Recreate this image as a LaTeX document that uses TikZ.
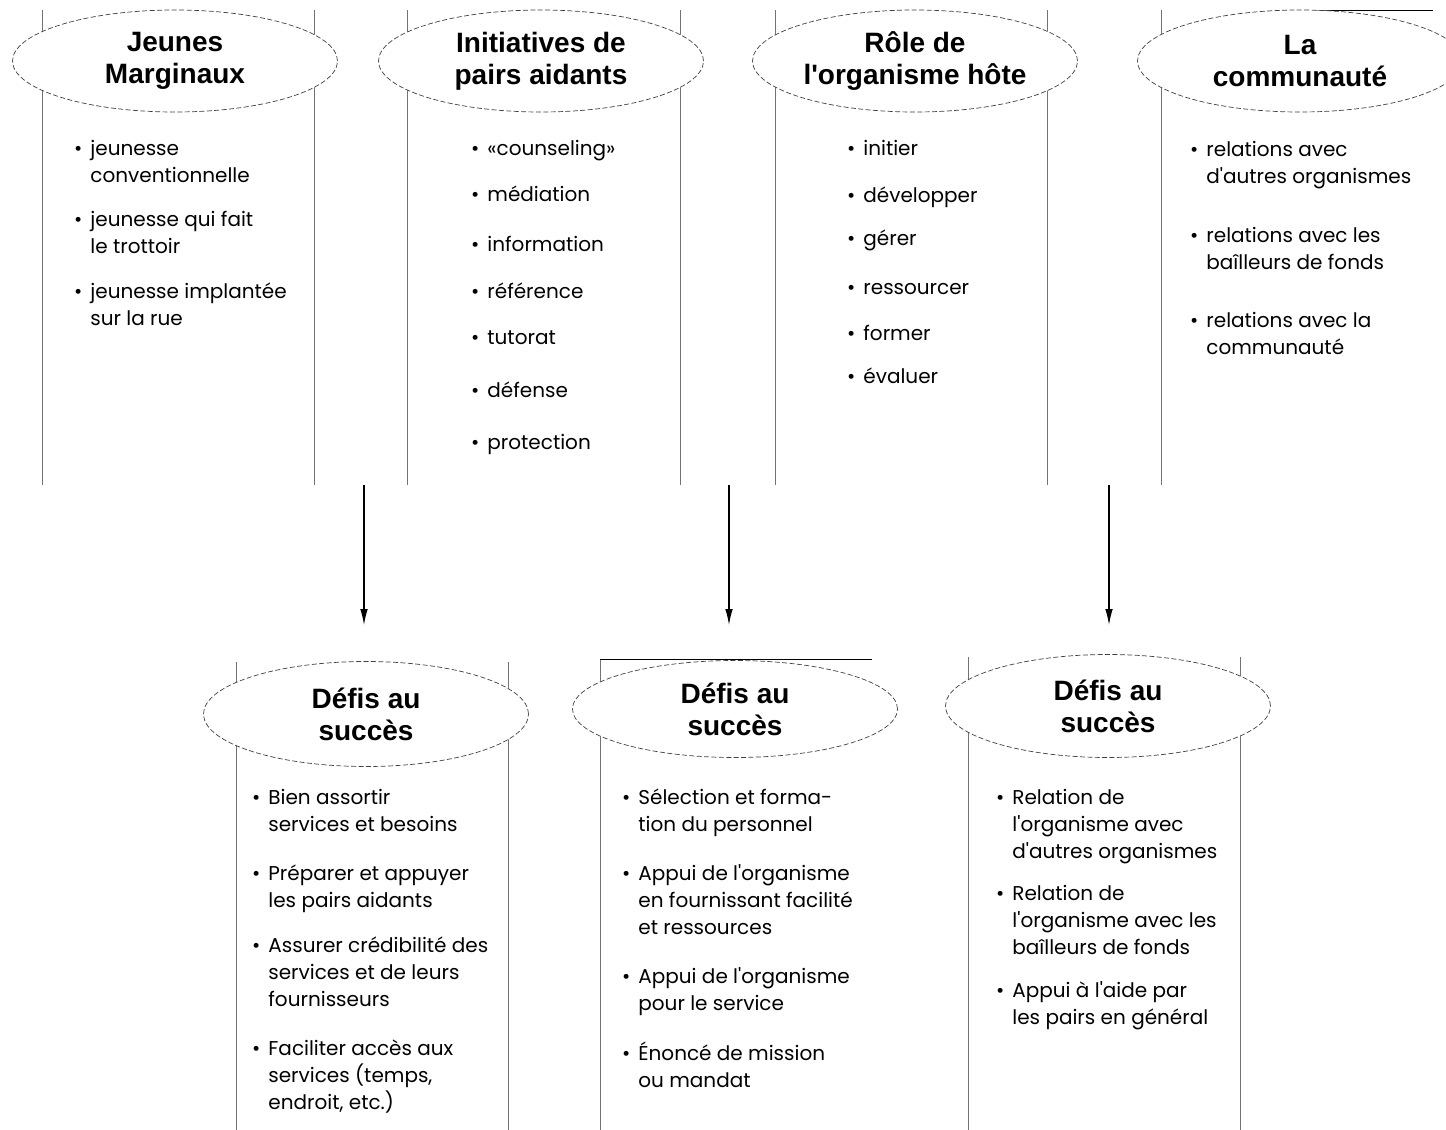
\documentclass[tikz,border=0pt]{standalone}
\usepackage{fontspec}
\setmainfont{Poppins}[Ligatures=TeXOff]
\newfontfamily\headfont{Liberation Sans}
\usetikzlibrary{shapes.geometric,arrows.meta}

\newcommand{\bul}{\llap{\textbullet\hspace{4pt}}}

\tikzset{
  head/.style={ellipse, draw=black!75, fill=white, dash pattern=on 2.5pt off 1.2pt,
    line width=0.35pt, inner sep=0pt, minimum width=162.5pt, align=center,
    font=\headfont\bfseries\fontsize{14}{16}\selectfont},
  entry/.style={anchor=base west, align=left, inner sep=0pt,
    font=\fontsize{10}{13.5}\selectfont},
  rule/.style={draw=black!55, line width=0.5pt},
  arr/.style={draw, line width=0.6pt, -{Latex[length=8pt,width=3.8pt]}}
}

\begin{document}
\begin{tikzpicture}[x=0.5pt, y=-0.5pt]
        \useasboundingbox (0,0) rectangle (1446,1130);
        \clip (0,0) rectangle (1446,1130);

        % column rules
        \foreach \x in {42,314,407,680,775,1047,1161}
            \draw[rule] (\x,10) -- (\x,485);
        \foreach \x/\y in {236/662,508/662,600/659,968/657,1240/657}
            \draw[rule] (\x,\y) -- (\x,1130);
        \draw (600,659) -- (872,659);
        \draw (1307,10) -- (1433,10);

        % headings
        \node[head, minimum height=51pt] (jeunes) at (175,61) {Jeunes\\Marginaux};
        \node[head, minimum height=51pt] (pairs) at (541,61) {Initiatives de\\pairs aidants};
        \node[head, minimum height=51pt] (hote) at (915,61) {Rôle de\\l'organisme hôte};
        \node[head, minimum height=51pt] (commu) at (1300,61) {La\\communauté};

        \node[head, minimum height=52.5pt] (defisA) at (366,714) {Défis au\\succès};
        \node[head, minimum height=48.5pt] (defisB) at (735,709) {Défis au\\succès};
        \node[head, minimum height=51.5pt] (defisC) at (1108,706) {Défis au\\succès};

        % top lists (y = baseline of the last line)
        \node[entry] (j1) at (90,182) {\bul jeunesse\\conventionnelle};
        \node[entry] (j2) at (90,253) {\bul jeunesse qui fait\\le trottoir};
        \node[entry] (j3) at (90,325) {\bul jeunesse implantée\\sur la rue};

        \node[entry] (p1) at (487,155) {\bul «counseling»};
        \node[entry] (p2) at (487,201) {\bul médiation};
        \node[entry] (p3) at (487,251) {\bul information};
        \node[entry] (p4) at (487,298) {\bul référence};
        \node[entry] (p5) at (487,344) {\bul tutorat};
        \node[entry] (p6) at (487,397) {\bul défense};
        \node[entry] (p7) at (487,449) {\bul protection};

        \node[entry] (h1) at (863,155) {\bul initier};
        \node[entry] (h2) at (863,202) {\bul développer};
        \node[entry] (h3) at (863,245) {\bul gérer};
        \node[entry] (h4) at (863,294) {\bul ressourcer};
        \node[entry] (h5) at (863,340) {\bul former};
        \node[entry] (h6) at (863,383) {\bul évaluer};

        \node[entry] (c1) at (1206,183) {\bul relations avec\\d'autres organismes};
        \node[entry] (c2) at (1206,269) {\bul relations avec les\\baîlleurs de fonds};
        \node[entry] (c3) at (1206,354) {\bul relations avec la\\communauté};

        % bottom lists
        \node[entry] (a1) at (268,831) {\bul Bien assortir\\services et besoins};
        \node[entry] (a2) at (268,907) {\bul Préparer et appuyer\\les pairs aidants};
        \node[entry] (a3) at (268,1006) {\bul Assurer crédibilité des\\services et de leurs\\fournisseurs};
        \node[entry] (a4) at (268,1109) {\bul Faciliter accès aux\\services (temps,\\endroit, etc.)};

        \node[entry] (b1) at (638,831) {\bul Sélection et forma-\\tion du personnel};
        \node[entry] (b2) at (638,934) {\bul Appui de l'organisme\\en fournissant facilité\\et ressources};
        \node[entry] (b3) at (638,1010) {\bul Appui de l'organisme\\pour le service};
        \node[entry] (b4) at (638,1087) {\bul Énoncé de mission\\ou mandat};

        \node[entry] (r1) at (1012,858) {\bul Relation de\\l'organisme avec\\d'autres organismes};
        \node[entry] (r2) at (1012,954) {\bul Relation de\\l'organisme avec les\\baîlleurs de fonds};
        \node[entry] (r3) at (1012,1024) {\bul Appui à l'aide par\\les pairs en général};

        % arrows
        \coordinate (s1) at (364,485);
        \coordinate (s2) at (729,485);
        \coordinate (s3) at (1109,485);
        \coordinate (e1) at (364,625);
        \coordinate (e2) at (729,625);
        \coordinate (e3) at (1109,625);

        \draw[arr] (s1) -- (e1);
        \draw[arr] (s2) -- (e2);
        \draw[arr] (s3) -- (e3);
    \end{tikzpicture}
\end{document}
